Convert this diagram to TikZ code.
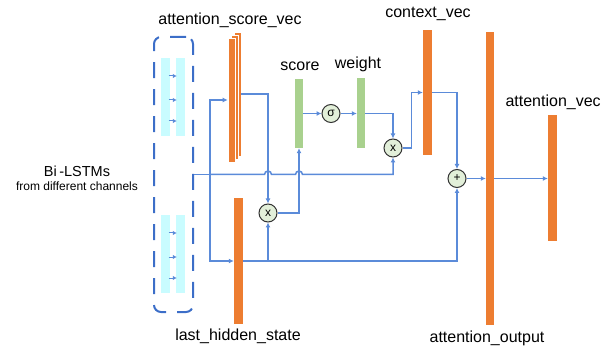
\documentclass[tikz,border=0pt]{standalone}
\usepackage{fontspec}
\setmainfont{Liberation Sans}
\usetikzlibrary{arrows.meta}
\definecolor{barorange}{HTML}{ED7D31}
\definecolor{bargreen}{HTML}{A9D18E}
\definecolor{barcyan}{HTML}{C9FCFF}
\definecolor{linkblue}{HTML}{5B8BD9}
\definecolor{boxblue}{HTML}{3C6EC8}
\definecolor{opfill}{HTML}{E2EFD9}
\begin{document}
\begin{tikzpicture}[x=1pt,y=-1pt,
  obar/.style={fill=barorange,inner sep=0,minimum width=9pt},
  gbar/.style={fill=bargreen,inner sep=0,minimum width=8pt},
  cbar/.style={fill=barcyan,inner sep=0,minimum width=9pt,minimum height=78pt},
  op/.style={circle,draw=black!80,fill=opfill,line width=1pt,minimum size=18pt,inner sep=0,font=\fontsize{12}{12}\selectfont},
  link/.style={draw=linkblue,line width=1.5pt,-{Latex[length=5pt,width=5pt]}},
  tick/.style={draw=linkblue,line width=1pt,-{Latex[length=4pt,width=4.5pt]}},
  lbl/.style={font=\fontsize{16}{18}\selectfont}]
  \useasboundingbox (0,0) rectangle (603,350);

  % Bi-LSTM block
  \node[font=\fontsize{14.5}{16}\selectfont] (bi) at (77,171) {Bi\,-LSTMs};
  \node[font=\fontsize{12}{14}\selectfont] (bisub) at (77,186) {from different channels};
  \node[draw=boxblue,dash pattern=on 16pt off 11pt,line width=2pt,rounded corners=7pt,
        minimum width=39pt,minimum height=275pt] (lstm) at (173.5,174.5) {};
  \foreach \y/\n in {97/up,254/dn} {
    \node[cbar] (\n-l) at (165,\y) {};
    \node[cbar] (\n-r) at (180.5,\y) {};
    \foreach \dy in {21,-3,-24}
      \draw[tick] ([xshift=-1pt,yshift=\dy pt]\n-l.east) -- ([xshift=1pt,yshift=\dy pt]\n-r.west);
  }

  % vectors
  \node[obar,minimum width=7pt,minimum height=124pt,draw=white,line width=0.6pt] (asv3) at (237.5,94) {};
  \node[obar,minimum width=7pt,minimum height=124pt,draw=white,line width=0.6pt] (asv2) at (234.5,97) {};
  \node[obar,minimum width=7pt,minimum height=124pt,draw=white,line width=0.6pt] (asv) at (231.5,100) {};
  \node[obar,minimum height=126pt] (lhs) at (238.5,261) {};
  \node[gbar,minimum height=69pt] (score) at (299,113.5) {};
  \node[gbar,minimum height=70pt] (weight) at (361,113.5) {};
  \node[obar,minimum height=125pt] (ctx) at (427.5,92.5) {};
  \node[obar,minimum width=8pt,minimum height=293pt] (aout) at (490,178.5) {};
  \node[obar,minimum height=126pt] (avec) at (552.5,178.5) {};

  % operations
  \node[op] (sig) at (331,113.5) {σ};
  \node[op] (mul1) at (393,148) {x};
  \node[op] (add) at (457,178.5) {+};
  \node[op] (mul2) at (268,213) {x};

  % labels
  \node[lbl] at (230,20) {attention\_score\_vec};
  \node[lbl] at (300,66) {score};
  \node[lbl] at (358,64) {weight};
  \node[lbl] at (428,14) {context\_vec};
  \node[lbl,anchor=west] at (502,102) {attention\_vec};
  \node[lbl] at (238,336) {last\_hidden\_state};
  \node[lbl] at (487,338) {attention\_output};

  % connections
  \coordinate (split) at (210,174.5);
  \coordinate (hopa) at (mul2 |- lstm.east);
  \coordinate (hopb) at (score |- lstm.east);
  \draw[link,-] (lstm.east) -- (split);
  \draw[link] (split) |- (asv.west);
  \draw[link] (split) |- (lhs.west);
  \draw[link] (split) -- ([xshift=-3.5pt]hopa) arc[start angle=180,end angle=0,radius=3.5pt]
    -- ([xshift=-3.5pt]hopb) arc[start angle=180,end angle=0,radius=3.5pt] -| (mul1.south);
  \draw[link] (asv3.east) -| (mul2.north);
  \draw[link] (lhs.east) -| (add.south);
  \draw[link] (lhs.east -| mul2) -- (mul2.south);
  \draw[link] (mul2.east) -| (score.south);
  \draw[link] (score.east) -- (sig.west);
  \draw[link] (sig.east) -- (weight.west);
  \draw[link] (weight.east) -| (mul1.north);
  \draw[link] (mul1.east) -- ++(9,0) |- (ctx.west);
  \draw[link] (ctx.east) -| (add.north);
  \draw[link] (add.east) -- (aout.west);
  \draw[link] (aout.east) -- (avec.west);
\end{tikzpicture}
\end{document}
